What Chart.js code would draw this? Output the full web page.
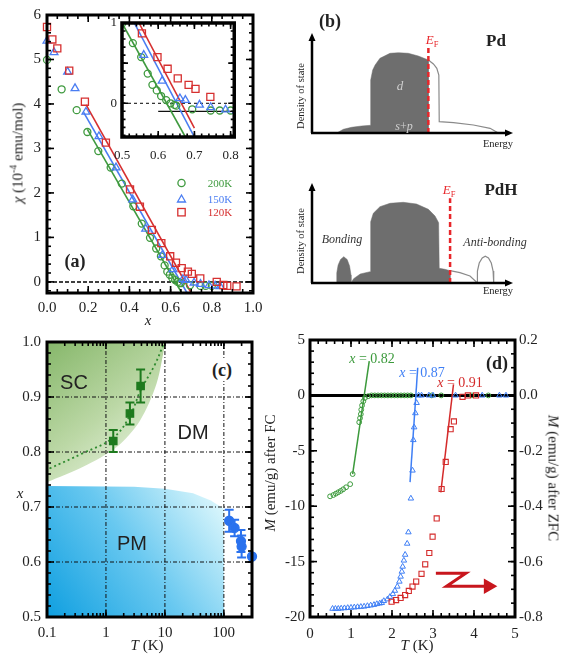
<!DOCTYPE html>
<html><head><meta charset="utf-8">
<script src="https://cdn.jsdelivr.net/npm/chart.js@4.4.0/dist/chart.umd.min.js"></script>
<style>
html,body{margin:0;padding:0;background:#fff;}
body{width:563px;height:656px;position:relative;overflow:hidden;font-family:"Liberation Serif","DejaVu Serif",serif;color:#222;}
.cv{position:absolute;}
.t{position:absolute;white-space:nowrap;line-height:1;transform:translate(-50%,-50%);}
.r90{transform:translate(-50%,-50%) rotate(-90deg);}
.r270{transform:translate(-50%,-50%) rotate(90deg);}
.sans{font-family:"Liberation Sans","DejaVu Sans",sans-serif;}
sup,sub{font-size:65%;line-height:0;}
</style></head><body>
<div class="cv" style="left:0;top:0"><canvas id="ca" width="280" height="330"></canvas></div>
<div class="cv" style="left:100px;top:10px"><canvas id="cai" width="150" height="155"></canvas></div>
<div class="cv" style="left:280px;top:0"><canvas id="cb1" width="283" height="160"></canvas></div>
<div class="cv" style="left:280px;top:160px"><canvas id="cb2" width="283" height="160"></canvas></div>
<div class="cv" style="left:0;top:325px"><canvas id="cc" width="280" height="331"></canvas></div>
<div class="cv" style="left:280px;top:325px"><canvas id="cd" width="283" height="331"></canvas></div>

<!-- panel (a) texts -->
<div class="t r90" style="left:18px;top:153px;font-size:15px"><i>χ</i> (10<sup>-4</sup> emu/mol)</div>
<div class="t" style="left:148px;top:320px;font-size:15px"><i>x</i></div>
<div class="t" style="left:75px;top:261px;font-size:18px;font-weight:bold">(a)</div>
<svg style="position:absolute;left:170px;top:175px" width="24" height="45">
 <circle cx="11.5" cy="8" r="3.6" fill="none" stroke="#3f9a3f" stroke-width="1.3"/>
 <polygon points="11.5,20 15.5,27 7.5,27" fill="none" stroke="#4a7df2" stroke-width="1.3"/>
 <rect x="7.8" y="33.5" width="7.4" height="7.4" fill="none" stroke="#d63030" stroke-width="1.3"/>
</svg>
<div class="t" style="left:220px;top:183px;font-size:11px;color:#3f9a3f">200K</div>
<div class="t" style="left:220px;top:199px;font-size:11px;color:#4a7df2">150K</div>
<div class="t" style="left:220px;top:212px;font-size:11px;color:#d63030">120K</div>

<!-- panel (b) texts -->
<div class="t" style="left:330px;top:21px;font-size:18px;font-weight:bold">(b)</div>
<div class="t" style="left:496px;top:40px;font-size:17px;font-weight:bold">Pd</div>
<div class="t" style="left:432px;top:39px;font-size:13px;color:#e8262a"><i>E</i><sub>F</sub></div>
<div class="t" style="left:400px;top:85px;font-size:13px;color:#cfcfcf"><i>d</i></div>
<div class="t" style="left:404px;top:126px;font-size:12px;color:#cfcfcf"><i>s</i>+<i>p</i></div>
<div class="t r90" style="left:301px;top:96px;font-size:10.5px">Density of state</div>
<div class="t" style="left:498px;top:144px;font-size:10.5px">Energy</div>
<div class="t" style="left:501px;top:189px;font-size:17px;font-weight:bold">PdH</div>
<div class="t" style="left:449px;top:189px;font-size:13px;color:#e8262a"><i>E</i><sub>F</sub></div>
<div class="t" style="left:342px;top:239px;font-size:12px;color:#333"><i>Bonding</i></div>
<div class="t" style="left:495px;top:242px;font-size:12px;color:#333"><i>Anti-bonding</i></div>
<div class="t r90" style="left:301px;top:241px;font-size:10.5px">Density of state</div>
<div class="t" style="left:498px;top:291px;font-size:10.5px">Energy</div>

<!-- panel (c) texts -->
<div class="t sans" style="left:74px;top:382px;font-size:20px">SC</div>
<div class="t sans" style="left:193px;top:432px;font-size:20px">DM</div>
<div class="t sans" style="left:132px;top:543px;font-size:20px">PM</div>
<div class="t" style="left:222px;top:370px;font-size:18px;font-weight:bold;background:#fff;padding:2px 1px">(c)</div>
<div class="t" style="left:20px;top:493px;font-size:15px"><i>x</i></div>
<div class="t" style="left:147px;top:645px;font-size:15px"><i>T</i> (K)</div>

<!-- panel (d) texts -->
<div class="t r90" style="left:270px;top:473px;font-size:15px"><i>M</i> (emu/g) after FC</div>
<div class="t r270" style="left:553px;top:478px;font-size:15px"><i>M</i> (emu/g) after ZFC</div>
<div class="t" style="left:417px;top:645px;font-size:15px"><i>T</i> (K)</div>
<div class="t" style="left:497px;top:363px;font-size:18px;font-weight:bold">(d)</div>
<div class="t" style="left:372px;top:359px;font-size:14px;color:#3c9a3c"><i>x</i> = 0.82</div>
<div class="t" style="left:422px;top:373px;font-size:14px;color:#3f7ff5"><i>x</i> = 0.87</div>
<div class="t" style="left:460px;top:383px;font-size:14px;color:#d42a2a"><i>x</i> = 0.91</div>

<script>
// ---------------- Panel (a): susceptibility vs x ----------------
const aTicksX = [0, 0.2, 0.4, 0.6, 0.8, 1.0];
const aTicksY = [0, 1, 2, 3, 4, 5, 6];
const aX120 = [0.0,0.026,0.05,0.108,0.184,0.286,0.403,0.451,0.509,0.555,0.598,0.626,0.654,0.684,0.703,0.744,0.824,0.856,0.875,0.92];
const aY120 = [5.73,5.45,5.25,4.75,4.05,3.13,2.08,1.69,1.17,0.87,0.575,0.43,0.31,0.23,0.18,0.08,0.0,-0.07,-0.09,-0.10];
const aX150 = [0.0,0.034,0.10,0.136,0.189,0.252,0.335,0.416,0.479,0.56,0.611,0.66,0.675,0.714,0.745,0.786,0.816,0.84];
const aY150 = [5.42,5.16,4.72,4.35,3.82,3.27,2.57,1.85,1.19,0.60,0.28,0.06,0.04,-0.02,-0.05,-0.08,-0.09,-0.10];
const aX200 = [0.0,0.071,0.144,0.196,0.249,0.309,0.363,0.419,0.46,0.50,0.53,0.553,0.571,0.584,0.596,0.608,0.622,0.634,0.645,0.65,0.694,0.745,0.77,0.80];
const aY200 = [4.99,4.33,3.86,3.37,2.94,2.57,2.21,1.70,1.31,0.99,0.75,0.575,0.37,0.23,0.16,0.09,0.04,0.0,-0.02,-0.03,-0.075,-0.09,-0.09,-0.09];
const aLineX200 = [0.196, 0.654], aLineY200 = [3.43, -0.25];
const aLineX150 = [0.178, 0.68],  aLineY150 = [3.81, -0.25];
const aLineX120 = [0.19, 0.70],   aLineY120 = [3.98, -0.25];
const aZeroX = [0, 1], aZeroY = [0, 0];
// inset
const iTicksX = [0.5, 0.6, 0.7, 0.8];
const iTicksY = [0, 1];
const iLineX200 = [0.50, 0.675], iLineY200 = [1.0, -0.42];
const iLineX150 = [0.534, 0.70], iLineY150 = [1.0, -0.42];
const iLineX120 = [0.547, 0.70], iLineY120 = [1.0, -0.31];
const iBaseX = [0.6, 0.81], iBaseY = [-0.1, -0.1];
const iZeroX = [0.5, 0.81], iZeroY = [0, 0];

// ---------------- Panel (b): density of states schematics ----------------
const bPdFillE = [12.3,15.6,19.7,24.7,29.2,29.2,30.2,31.4,33.8,38.8,43,47.9,52.9,57.9,57.9];
const bPdFillH = [0,3.7,5.7,7,7.7,53,63,68,74.7,79.7,80.3,79.7,77,73,0];
const bPdOutE = [57.9,60.4,62.1,63.1,63.3,70.4,80.3,88.6,92.7];
const bPdOutH = [73,69,64.7,58,11.3,10.3,8,4.7,0];
const bPdEFE = [57.9, 57.9], bPdEFH = [0, 88];
const bPdHFillE = [19.4,20.7,24,28.9,29.2,30.5,33.8,38.8,45.4,52,57.9,61.2,63,63.3,66.1,68.7,68.7];
const bPdHFillH = [0,4.3,9,11.3,61.3,69.7,76.3,79.7,80.7,79,73.7,67,60.3,14.7,13.7,12.3,0];
const bBondE = [12.1,12.3,13,14.2,15.8,17.5,18.7,19.4,19.4];
const bBondH = [0,10,18,23.5,26.3,23.5,17,8,0];
const bPdHOutE = [68.7,73.6,78.6,82.3];
const bPdHOutH = [12.3,10.3,7,0];
const bAntiE = [82.1,82.3,83.2,84.7,86.2,87.8,89.2,90.1,90.4];
const bAntiH = [0,12,20,25,26.7,25,20,12,0];
const bPdHEFE = [68.7, 68.7], bPdHEFH = [0, 84.7];

// ---------------- Panel (c): phase diagram ----------------
const cTicksX = [0.1, 1, 10, 100];
const cTicksY = [0.5, 0.6, 0.7, 0.8, 0.9, 1.0];
const cSCT = [1.33, 2.55, 3.87], cSCX = [0.82, 0.87, 0.92], cSCErr = [0.02, 0.02, 0.03];
const cPMT = [123, 152, 195, 200, 300], cPMX = [0.675, 0.662, 0.638, 0.628, 0.61], cPMErr = [0.02, 0.015, 0.02, 0.02, 0];
const cCurveT = [0.11, 0.41, 1.33, 2.55, 3.87, 6.7, 9.4];
const cCurveX = [0.77, 0.798, 0.826, 0.866, 0.912, 0.958, 0.995];
const cSCBoundT = [0.1, 0.41, 1.52, 3.77, 7.2, 10.2];
const cSCBoundX = [0.745, 0.773, 0.809, 0.857, 0.924, 1.0];
const cPMBoundT = [0.1, 3, 10, 30, 60, 100, 100];
const cPMBoundX = [0.738, 0.737, 0.733, 0.725, 0.712, 0.697, 0.5];

// ---------------- Panel (d): magnetization vs T ----------------
const dTicksX = [0, 1, 2, 3, 4, 5];
const dTicksY = [-20, -15, -10, -5, 0, 5];
const dTicksY2 = [-0.8, -0.6, -0.4, -0.2, 0, 0.2];
const dFCT = [0.49,0.57,0.63,0.69,0.75,0.81,0.88,0.98,1.04,1.20,1.22,1.24,1.25,1.27,1.30,1.34,1.42,1.50,1.58,1.66,1.74,1.82,1.90,1.98,2.06,2.14,2.22,2.30,2.38,2.46,2.97,3.20,3.95,4.35];
const dFCM = [-9.11,-8.99,-8.87,-8.74,-8.62,-8.47,-8.29,-8.01,-7.1,-2.42,-2.05,-1.69,-1.29,-0.90,-0.53,-0.23,-0.07,0,0,0,0,0,0,0,0,0,0,0,0,0,0,0,0,0];
const dLine82T = [1.04, 1.445], dLine82M = [-7.1, 3.1];
const dZ87T = [0.55,0.62,0.69,0.76,0.84,0.92,1.0,1.08,1.16,1.24,1.32,1.40,1.48,1.56,1.63,1.70,1.75,1.80,1.89,1.95,2.02,2.07,2.13,2.18,2.21,2.24,2.26,2.29,2.32,2.37,2.40,2.46,2.50,2.52,2.54,2.57,2.60,2.65,2.72,2.90,3.0,3.55,4.20,4.62,4.78];
const dZ87M = [-0.770,-0.770,-0.770,-0.769,-0.768,-0.767,-0.766,-0.765,-0.764,-0.763,-0.762,-0.760,-0.758,-0.756,-0.753,-0.751,-0.749,-0.742,-0.736,-0.727,-0.717,-0.705,-0.690,-0.672,-0.654,-0.636,-0.618,-0.596,-0.575,-0.535,-0.494,-0.372,-0.271,-0.161,-0.115,-0.064,-0.027,0,0,0,0,0,0,0,0];
const dLine87T = [2.44, 2.627], dLine87M = [-0.313, 0.100];
const dZ91T = [1.99,2.10,2.21,2.32,2.41,2.50,2.59,2.72,2.81,2.91,2.99,3.09,3.21,3.31,3.43,3.51,3.72,3.85,4.05];
const dZ91M = [-0.745,-0.739,-0.731,-0.721,-0.706,-0.690,-0.672,-0.644,-0.610,-0.569,-0.510,-0.444,-0.338,-0.24,-0.122,-0.094,-0.005,0,0];
const dLine91T = [3.19, 3.50], dLine91M = [-0.35, 0.04];
const dZeroT = [0, 5], dZeroM = [0, 0];
const dArrowT = [3.07, 3.80, 3.33, 4.35], dArrowM = [-16.05, -16.05, -17.22, -17.22];

// ---------------- helpers ----------------
const pts = (xs, ys) => xs.map((x, i) => ({x, y: ys[i]}));
const range = (a, b, s) => { const r = []; for (let v = a; v <= b + 1e-9; v += s) r.push(+v.toFixed(6)); return r; };
const logMinor = (d0, d1, max) => { const r = []; for (let d = d0; d <= d1; d++) for (let k = 1; k <= 9; k++) { const v = k * Math.pow(10, d); if (v <= max) r.push(v); } return r; };
const G = '#3f9a3f', B = '#4a7df2', R = '#d63030';
const SERIF = '"Liberation Serif","DejaVu Serif",serif';
const FRAME = {};   // frame settings per canvas id
const ARROWS = {};  // axis-arrow settings per canvas id

// inner tick marks drawn as Chart.js 'line' points sitting on the frame (clipped to the plot area)
const tickDs = (data, len, rot, yAxisID) => ({data, showLine: false, pointStyle: 'line', pointRadius: len, pointRotation: rot, rotation: rot,
  pointBorderColor: '#000', borderColor: '#000', pointBorderWidth: 1.6, borderWidth: 1.6, backgroundColor: '#000', pointBackgroundColor: '#000', yAxisID: yAxisID || 'y'});
const xTickPts = (vals, y0, y1) => vals.flatMap(v => [{x: v, y: y0}, {x: v, y: y1}]);
const yTickPts = (vals, xs) => vals.flatMap(v => xs.map(x => ({x, y: v})));

function drawGrid(chart, o) {
  const ctx = chart.ctx, a = chart.chartArea, X = chart.scales.x, Y = chart.scales.y;
  ctx.save();
  ctx.setLineDash([4, 2, 1, 2]); ctx.lineWidth = 1; ctx.strokeStyle = '#111';
  ctx.beginPath();
  for (const v of (o.gridX || [])) { const p = X.getPixelForValue(v); ctx.moveTo(p, a.top); ctx.lineTo(p, a.bottom); }
  for (const v of (o.gridY || [])) { const p = Y.getPixelForValue(v); ctx.moveTo(a.left, p); ctx.lineTo(a.right, p); }
  ctx.stroke();
  ctx.restore();
}
function drawFrame(chart, o) {
  const ctx = chart.ctx, a = chart.chartArea;
  ctx.save();
  ctx.setLineDash([]);
  ctx.strokeStyle = '#000';
  ctx.lineWidth = o.fw || 3;
  ctx.strokeRect(a.left, a.top, a.right - a.left, a.bottom - a.top);
  ctx.restore();
}
Chart.register({
  id: 'frameTicks',
  beforeDraw(chart) {
    const o = FRAME[chart.canvas.id];
    if (o && o.bg) { const a = chart.chartArea, c = chart.ctx; c.save(); c.fillStyle = o.bg; c.fillRect(a.left, a.top, a.right - a.left, a.bottom - a.top); c.restore(); }
  },
  afterDatasetDraw(chart, args) { const o = FRAME[chart.canvas.id]; if (o && o.gridAfter === args.index) drawGrid(chart, o); },
  afterDraw(chart) { const o = FRAME[chart.canvas.id]; if (o) drawFrame(chart, o); }
});
Chart.register({
  id: 'errbars',
  afterDatasetsDraw(chart) {
    const ctx = chart.ctx;
    chart.data.datasets.forEach((ds, i) => {
      if (!ds.errY) return;
      const meta = chart.getDatasetMeta(i), ys = chart.scales[meta.yAxisID];
      ctx.save(); ctx.strokeStyle = ds.borderColor; ctx.lineWidth = 2;
      meta.data.forEach((el, j) => {
        const e = ds.errY[j]; if (!e) return;
        const v = ds.data[j].y, t = ys.getPixelForValue(v + e), b = ys.getPixelForValue(v - e);
        ctx.beginPath(); ctx.moveTo(el.x, t); ctx.lineTo(el.x, b);
        ctx.moveTo(el.x - 4.5, t); ctx.lineTo(el.x + 4.5, t);
        ctx.moveTo(el.x - 4.5, b); ctx.lineTo(el.x + 4.5, b); ctx.stroke();
      });
      ctx.restore();
    });
  }
});
Chart.register({
  id: 'arrowAxes',
  afterDatasetsDraw(chart) {
    if (!ARROWS[chart.canvas.id]) return;
    const ctx = chart.ctx, X = chart.scales.x, Y = chart.scales.y;
    const x0 = X.getPixelForValue(0), y0 = Y.getPixelForValue(0), x1 = X.getPixelForValue(100), y1 = Y.getPixelForValue(100);
    ctx.save(); ctx.strokeStyle = '#000'; ctx.fillStyle = '#000'; ctx.lineWidth = 2.5;
    ctx.beginPath(); ctx.moveTo(x0, y0); ctx.lineTo(x0, y1 + 5); ctx.moveTo(x0 - 1, y0); ctx.lineTo(x1 - 5, y0); ctx.stroke();
    ctx.beginPath(); ctx.moveTo(x0, y1); ctx.lineTo(x0 - 3.5, y1 + 8); ctx.lineTo(x0 + 3.5, y1 + 8); ctx.closePath(); ctx.fill();
    ctx.beginPath(); ctx.moveTo(x1, y0); ctx.lineTo(x1 - 8, y0 - 3.5); ctx.lineTo(x1 - 8, y0 + 3.5); ctx.closePath(); ctx.fill();
    ctx.restore();
  }
});

const tickFont = (s) => ({family: SERIF, size: s});
function axis(opts) {
  const {min, max, ticks, fmt, pad, fit, horiz, type, position, font} = opts;
  const o = {
    type: type || 'linear', min, max, position,
    grid: {display: false, drawTicks: false}, border: {display: false},
    ticks: {font: tickFont(font || 15), color: '#222', padding: pad, autoSkip: false, maxRotation: 0, callback: fmt},
    afterBuildTicks: s => { s.ticks = ticks.map(v => ({value: v})); }
  };
  if (horiz) o.afterFit = s => { s.height = fit; }; else o.afterFit = s => { s.width = fit; };
  return o;
}
const base = (padding) => ({
  responsive: false, animation: false, events: [],
  layout: {padding},
  plugins: {legend: {display: false}, tooltip: {enabled: false}}
});
const lineDs = (data, color, w, extra) => Object.assign({data, showLine: true, pointRadius: 0, borderColor: color, borderWidth: w, backgroundColor: 'transparent', fill: false, tension: 0}, extra || {});
const markDs = (data, style, r, color, fillc, extra) => Object.assign({data, showLine: false, pointStyle: style, pointRadius: r, borderColor: color, backgroundColor: fillc || 'rgba(0,0,0,0)', borderWidth: 1.3}, extra || {});

// ---------- Chart (a) ----------
{
  FRAME.ca = {};
  const o = base({left: 0, right: 27, top: 15, bottom: 0});
  o.scales = {
    x: axis({min: 0, max: 1, ticks: aTicksX, fmt: v => v.toFixed(1), pad: 6, fit: 37, horiz: true}),
    y: axis({min: -0.25, max: 6, ticks: aTicksY, fmt: v => String(v), pad: 6, fit: 47})
  };
  new Chart(document.getElementById('ca'), {type: 'scatter', data: {datasets: [
    tickDs(xTickPts(aTicksX, -0.25, 6), 7, 90),
    tickDs(xTickPts(range(0, 1, 0.05), -0.25, 6), 4, 90),
    tickDs(yTickPts(aTicksY, [0, 1]), 7, 0),
    tickDs(yTickPts(range(-0.2, 6, 0.2), [0, 1]), 4, 0),
    markDs(pts(aX120, aY120), 'rect', 5, R, null, {clip: false}),
    markDs(pts(aX150, aY150), 'triangle', 4.5, B, null, {clip: false}),
    markDs(pts(aX200, aY200), 'circle', 3.5, G, null, {clip: false}),
    lineDs(pts(aLineX120, aLineY120), R, 1.6),
    lineDs(pts(aLineX150, aLineY150), B, 1.6),
    lineDs(pts(aLineX200, aLineY200), G, 1.6),
    lineDs(pts(aZeroX, aZeroY), '#000', 1.5, {borderDash: [4, 2]})
  ]}, options: o});
}
// ---------- Inset of (a) ----------
{
  FRAME.cai = {bg: '#fff', fw: 3.5};
  const o = base({left: 0, right: 8, top: 13, bottom: 0});
  o.scales = {
    x: axis({min: 0.5, max: 0.81, ticks: iTicksX, fmt: v => v.toFixed(1), pad: 11, fit: 28, horiz: true, font: 13}),
    y: axis({min: -0.42, max: 1.0, ticks: iTicksY, fmt: v => String(v), pad: 5, fit: 22, font: 13})
  };
  new Chart(document.getElementById('cai'), {type: 'scatter', data: {datasets: [
    tickDs(xTickPts(iTicksX, -0.42, 1.0), 6, 90),
    tickDs(xTickPts(range(0.5, 0.81, 0.02), -0.42, 1.0), 3.5, 90),
    tickDs(yTickPts([0, 0.5, 1], [0.5, 0.81]), 6, 0),
    tickDs(yTickPts(range(-0.4, 1, 0.1), [0.5, 0.81]), 3.5, 0),
    markDs(pts(aX120, aY120), 'rect', 5, R),
    markDs(pts(aX150, aY150), 'triangle', 4.5, B),
    markDs(pts(aX200, aY200), 'circle', 3.5, G),
    lineDs(pts(iLineX120, iLineY120), R, 1.6),
    lineDs(pts(iLineX150, iLineY150), B, 1.6),
    lineDs(pts(iLineX200, iLineY200), G, 1.6),
    lineDs(pts(iBaseX, iBaseY), '#111', 1.2),
    lineDs(pts(iZeroX, iZeroY), '#000', 1, {borderDash: [3, 3]})
  ]}, options: o});
}
// ---------- Charts (b) ----------
function dosOptions(padding) {
  const o = base(padding);
  o.scales = {x: {type: 'linear', min: 0, max: 100, display: false}, y: {type: 'linear', min: 0, max: 100, display: false}};
  return o;
}
const DOS = '#6e6e6e', EFC = '#e8262a';
ARROWS.cb1 = true; ARROWS.cb2 = true;
new Chart(document.getElementById('cb1'), {type: 'scatter', data: {datasets: [
  lineDs(pts(bPdEFE, bPdEFH), EFC, 2.5, {borderDash: [5, 3]}),
  lineDs(pts(bPdOutE, bPdOutH), '#8a8a8a', 1.2),
  lineDs(pts(bPdFillE, bPdFillH), DOS, 0.5, {fill: 'origin', backgroundColor: DOS})
]}, options: dosOptions({left: 32, right: 50, top: 33, bottom: 27})});
new Chart(document.getElementById('cb2'), {type: 'scatter', data: {datasets: [
  lineDs(pts(bPdHEFE, bPdHEFH), EFC, 2.5, {borderDash: [5, 3]}),
  lineDs(pts(bPdHOutE, bPdHOutH), '#8a8a8a', 1.2),
  lineDs(pts(bAntiE, bAntiH), '#8a8a8a', 1.2),
  lineDs(pts(bBondE, bBondH), DOS, 0.5, {fill: 'origin', backgroundColor: DOS}),
  lineDs(pts(bPdHFillE, bPdHFillH), DOS, 0.5, {fill: 'origin', backgroundColor: DOS})
]}, options: dosOptions({left: 32, right: 50, top: 23, bottom: 37})});

// ---------- Chart (c) ----------
{
  const o = base({left: 0, right: 28, top: 17, bottom: 0});
  o.scales = {
    x: axis({type: 'logarithmic', min: 0.1, max: 300, ticks: cTicksX, fmt: v => String(v), pad: 7, fit: 39, horiz: true}),
    y: axis({min: 0.5, max: 1.0, ticks: cTicksY, fmt: v => v.toFixed(1), pad: 6, fit: 47})
  };
  const blueGrad = (ctx) => {
    const ch = ctx.chart, a = ch.chartArea; if (!a) return '#7fcdef';
    const X = ch.scales.x, Y = ch.scales.y;
    const g = ch.ctx.createLinearGradient(a.left, a.bottom, X.getPixelForValue(100), Y.getPixelForValue(0.73));
    g.addColorStop(0, '#0f9fe0'); g.addColorStop(0.5, '#68c8f0'); g.addColorStop(1, '#e6fbfd');
    return g;
  };
  const greenGrad = (ctx) => {
    const ch = ctx.chart, a = ch.chartArea; if (!a) return '#b5d39c';
    const X = ch.scales.x, Y = ch.scales.y;
    const g = ch.ctx.createLinearGradient(a.left, a.top, X.getPixelForValue(6), Y.getPixelForValue(0.76));
    g.addColorStop(0, '#86b76a'); g.addColorStop(0.55, '#bcd8a6'); g.addColorStop(1, '#eef6e8');
    return g;
  };
  const scFill = lineDs(pts(cSCBoundT, cSCBoundX), 'rgba(0,0,0,0)', 0, {fill: 'end', backgroundColor: greenGrad, tension: 0.3});
  const pmFill = lineDs(pts(cPMBoundT, cPMBoundX), 'rgba(0,0,0,0)', 0, {fill: 'start', backgroundColor: blueGrad});
  const datasets = [
    tickDs(xTickPts(cTicksX, 0.5, 1.0), 7, 90),
    tickDs(xTickPts(logMinor(-1, 2, 300), 0.5, 1.0), 4, 90),
    tickDs(yTickPts(cTicksY, [0.1, 300]), 7, 0),
    tickDs(yTickPts(range(0.5, 1.0, 0.02), [0.1, 300]), 4, 0),
    markDs(pts(cSCT, cSCX), 'rect', 5.2, '#1e7a1e', '#1e7a1e', {errY: cSCErr, clip: false}),
    markDs(pts(cPMT, cPMX), 'circle', 4.5, '#2a72ee', '#2a72ee', {errY: cPMErr, clip: false}),
    lineDs(pts(cCurveT, cCurveX), '#2f8a2f', 1.8, {borderDash: [2, 3], tension: 0.4}),
    scFill,
    pmFill
  ];
  FRAME.cc = {gridAfter: datasets.indexOf(scFill), gridX: [1, 10, 100], gridY: [0.6, 0.7, 0.8, 0.9]};
  new Chart(document.getElementById('cc'), {type: 'scatter', data: {datasets}, options: o});
}
// ---------- Chart (d) ----------
{
  FRAME.cd = {};
  const o = base({left: 0, right: 0, top: 15, bottom: 0});
  o.scales = {
    x: axis({min: 0, max: 5, ticks: dTicksX, fmt: v => String(v), pad: 8, fit: 39, horiz: true}),
    y: axis({min: -20, max: 5, ticks: dTicksY, fmt: v => String(v), pad: 5, fit: 30, position: 'left'}),
    y2: axis({min: -0.8, max: 0.2, ticks: dTicksY2, fmt: v => v.toFixed(1), pad: 4, fit: 48, position: 'right'})
  };
  const GD = '#3c9a3c', BD = '#3f7ff5', RD = '#d42a2a';
  new Chart(document.getElementById('cd'), {type: 'scatter', data: {datasets: [
    tickDs(xTickPts(dTicksX, -20, 5), 7, 90),
    tickDs(xTickPts(range(0, 5, 0.2), -20, 5), 4, 90),
    tickDs(yTickPts(dTicksY, [0]), 7, 0),
    tickDs(yTickPts(range(-20, 5, 1), [0]), 4, 0),
    tickDs(yTickPts(dTicksY2, [5]), 7, 0, 'y2'),
    tickDs(yTickPts(range(-0.8, 0.2, 0.05), [5]), 4, 0, 'y2'),
    markDs(pts(dZ91T, dZ91M), 'rect', 3.6, RD, null, {yAxisID: 'y2', borderWidth: 1.1, clip: false}),
    markDs(pts(dZ87T, dZ87M), 'triangle', 3.2, BD, null, {yAxisID: 'y2', borderWidth: 1, clip: false}),
    markDs(pts(dFCT, dFCM), 'circle', 2.4, GD, null, {yAxisID: 'y', borderWidth: 1, clip: false}),
    lineDs(pts(dLine91T, dLine91M), RD, 1.5, {yAxisID: 'y2'}),
    lineDs(pts(dLine87T, dLine87M), BD, 1.5, {yAxisID: 'y2'}),
    lineDs(pts(dLine82T, dLine82M), GD, 1.5, {yAxisID: 'y'}),
    lineDs(pts(dZeroT, dZeroM), '#000', 3, {yAxisID: 'y'}),
    Object.assign(lineDs(pts(dArrowT, dArrowM), '#c8161d', 3, {yAxisID: 'y'}),
      {pointRadius: [0, 0, 0, 6], pointStyle: 'triangle', rotation: 90, backgroundColor: '#c8161d', pointBorderColor: '#c8161d', clip: false})
  ]}, options: o});
}
</script>
</body></html>
